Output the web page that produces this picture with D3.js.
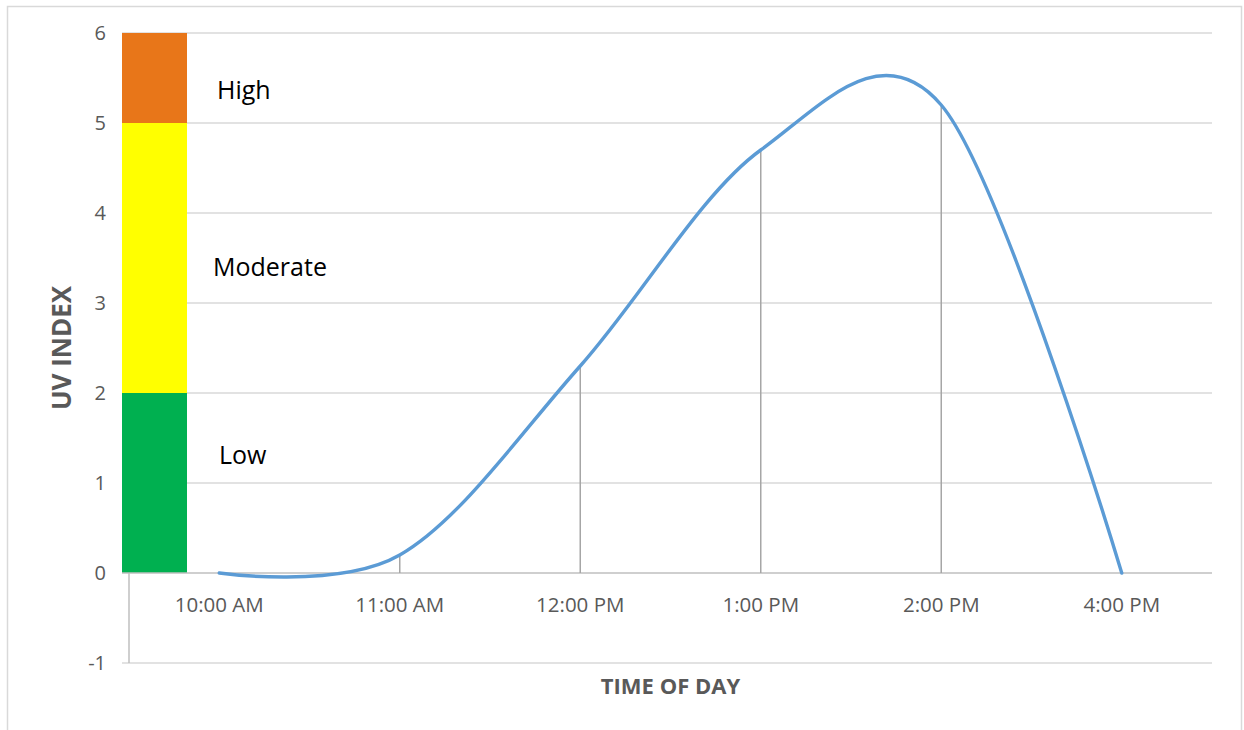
<!DOCTYPE html>
<html>
<head>
<meta charset="utf-8">
<script src="https://cdn.jsdelivr.net/npm/d3@7"></script>
<style>
  body { margin: 0; background: #fff; }
  svg { display: block; font-family: 'Open Sans', sans-serif; }
</style>
</head>
<body>
<svg id="chart" width="1244" height="730"></svg>
<script>
// data
const times = ['10:00 AM', '11:00 AM', '12:00 PM', '1:00 PM', '2:00 PM', '4:00 PM'];
const uvValues = [0, 0.2, 2.3, 4.7, 5.2, 0];
const yTicks = [-1, 0, 1, 2, 3, 4, 5, 6];
const bandNames = ['Low', 'Moderate', 'High'];
const bandFrom = [0, 2, 5];
const bandTo = [2, 5, 6];
const bandColors = ['#00b050', '#ffff00', '#e87619'];

function drawChart() {
  const svg = d3.select('svg#chart');
  const plotLeft = 129;
  const plotRight = 1212;
  const plotTop = 33;
  const plotBottom = 663;

  // outer frame
  svg.append('rect')
    .attr('x', 7.5).attr('y', 6.5)
    .attr('width', 1234).attr('height', 740)
    .attr('fill', 'none')
    .attr('stroke', '#d9d9d9')
    .attr('stroke-width', 1.5);

  const x = d3.scaleBand()
    .domain(times)
    .range([plotLeft, plotRight]);

  const y = d3.scaleLinear()
    .domain([-1, 6])
    .range([plotBottom, plotTop]);

  // gridlines
  svg.append('g').selectAll('line.grid').data(yTicks.filter((d) => d !== 0))
    .enter()
    .append('line')
    .attr('class', 'grid')
    .attr('x1', plotLeft - 7).attr('x2', plotRight)
    .attr('y1', (d) => y(d)).attr('y2', (d) => y(d))
    .attr('stroke', '#d9d9d9')
    .attr('stroke-width', 1.5);

  // y axis labels
  svg.append('g').selectAll('text.ytick').data(yTicks)
    .enter()
    .append('text')
    .attr('class', 'ytick')
    .attr('x', 106)
    .attr('y', (d) => y(d))
    .attr('dy', '0.35em')
    .attr('text-anchor', 'end')
    .attr('font-size', '20px')
    .attr('fill', '#595959')
    .text((d) => d);

  // vertical axis line
  svg.append('line')
    .attr('x1', plotLeft).attr('x2', plotLeft)
    .attr('y1', y(6)).attr('y2', y(-1))
    .attr('stroke', '#bfbfbf')
    .attr('stroke-width', 1.5);

  // UV bands
  const bandLeft = plotLeft - 7;
  const bandWidth = 65;
  svg.append('g').selectAll('rect.band').data(bandNames)
    .enter()
    .append('rect')
    .attr('class', 'band')
    .attr('x', bandLeft)
    .attr('width', bandWidth)
    .attr('y', (d, i) => y(bandTo[i]))
    .attr('height', (d, i) => y(bandFrom[i]) - y(bandTo[i]))
    .attr('fill', (d, i) => bandColors[i]);

  // label spots (offsets from band middle, in px)
  const labelDx = { High: 217, Moderate: 213, Low: 219 };
  const labelDy = { High: 12, Moderate: 9, Low: -28 };
  svg.append('g').selectAll('text.bandlabel').data(bandNames)
    .enter()
    .append('text')
    .attr('class', 'bandlabel')
    .attr('x', (d) => labelDx[d])
    .attr('y', (d, i) => (y(bandFrom[i]) + y(bandTo[i])) / 2 + labelDy[d])
    .attr('dy', '0.35em')
    .attr('font-size', '25px')
    .attr('fill', '#000')
    .text((d) => d);

  // x axis line at zero
  svg.append('line')
    .attr('x1', plotLeft - 7).attr('x2', plotRight)
    .attr('y1', y(0)).attr('y2', y(0))
    .attr('stroke', '#bfbfbf')
    .attr('stroke-width', 1.5);

  // x labels
  svg.append('g').selectAll('text.xtick').data(times)
    .enter()
    .append('text')
    .attr('class', 'xtick')
    .attr('x', (d) => x(d) + x.bandwidth() / 2)
    .attr('y', 605)
    .attr('dy', '0.35em')
    .attr('text-anchor', 'middle')
    .attr('font-size', '20.5px')
    .attr('fill', '#595959')
    .text((d) => d);

  // drop lines
  svg.append('g').selectAll('line.drop').data(uvValues)
    .enter()
    .append('line')
    .attr('class', 'drop')
    .attr('x1', (d, i) => x(times[i]) + x.bandwidth() / 2)
    .attr('x2', (d, i) => x(times[i]) + x.bandwidth() / 2)
    .attr('y1', (d) => y(d))
    .attr('y2', y(0))
    .attr('stroke', '#a6a6a6')
    .attr('stroke-width', 1.5);

  // smoothed line
  const line = d3.line()
    .x((d, i) => x(times[i]) + x.bandwidth() / 2)
    .y((d) => y(d))
    .curve(d3.curveCardinal.tension(0));

  svg.append('path')
    .datum(uvValues)
    .attr('d', line)
    .attr('fill', 'none')
    .attr('stroke', '#5b9bd5')
    .attr('stroke-width', 3.4)
    .attr('stroke-linecap', 'round');

  // axis titles
  svg.append('text')
    .attr('transform', `translate(62 ${(y(6) + y(-1)) / 2}) rotate(-90)`)
    .attr('dy', '0.35em')
    .attr('text-anchor', 'middle')
    .attr('font-size', '26px')
    .attr('font-weight', 'bold')
    .attr('fill', '#595959')
    .text('UV INDEX');

  svg.append('text')
    .attr('x', (plotLeft + plotRight) / 2)
    .attr('y', 686)
    .attr('dy', '0.35em')
    .attr('text-anchor', 'middle')
    .attr('font-size', '22px')
    .attr('font-weight', 'bold')
    .attr('fill', '#595959')
    .text('TIME OF DAY');
}

drawChart();
</script>
</body>
</html>
